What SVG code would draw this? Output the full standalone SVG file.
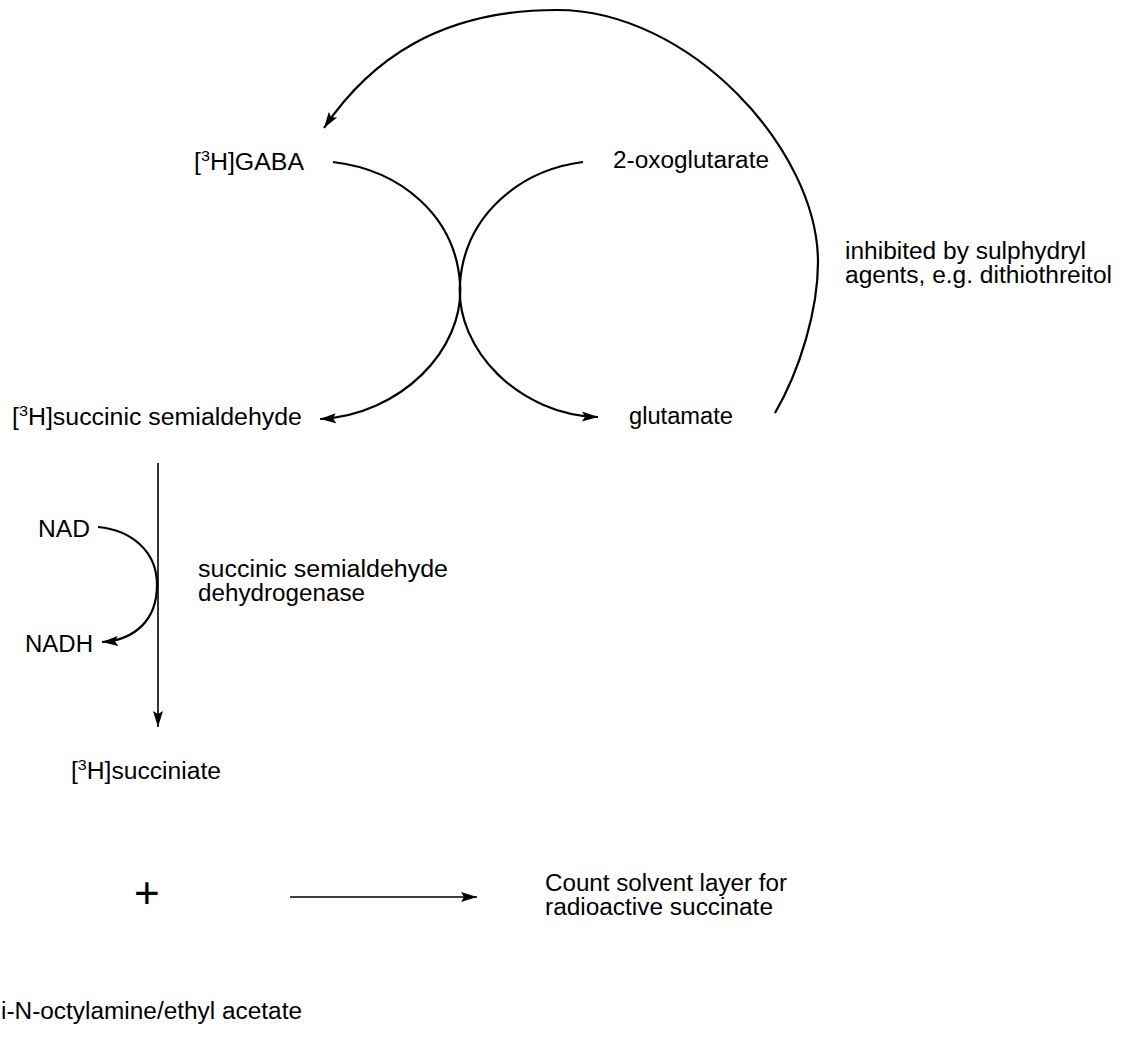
<svg xmlns="http://www.w3.org/2000/svg" width="1131" height="1037" viewBox="0 0 1131 1037">
<style>
text{font-family:"Liberation Sans",Arial,sans-serif;font-size:23px;fill:#000}
.c{fill:none;stroke:#000;stroke-width:2.2}
.t{fill:none;stroke:#000;stroke-width:1.6}
.sup{font-size:15px}
</style>
<defs>
<marker id="ah" markerUnits="userSpaceOnUse" markerWidth="18" markerHeight="12" refX="16" refY="6" orient="auto" viewBox="0 0 18 12">
<path d="M0,1 L16,6 L0,11 L3,6 Z" fill="#000"/>
</marker>
</defs>
<rect width="1131" height="1037" fill="#fff"/>
<g id="connectors">
<path class="c" d="M775,413 C800,370 818,310 818,262 C818,150 690,10 557,10 C440,10 370,60 324,128" marker-end="url(#ah)"/>
<path class="c" d="M333,162 C400,170 455,215 460,283 C465,350 400,415 320,419" marker-end="url(#ah)"/>
<path class="c" d="M583,162 C520,170 465,215 460,283 C455,350 520,415 598,417" marker-end="url(#ah)"/>
<path class="t" d="M158,463 L158,727" marker-end="url(#ah)"/>
<path class="c" d="M98,527 C130,530 157,550 157,585 C157,620 135,640 102,642" marker-end="url(#ah)"/>
<path class="t" d="M290,897 L477,897" marker-end="url(#ah)"/>
</g>
<g id="gaba"><text x="194" y="170" textLength="110" lengthAdjust="spacingAndGlyphs">[<tspan class="sup" dy="-9">3</tspan><tspan dy="9">H]GABA</tspan></text></g>
<g id="oxoglutarate"><text x="613" y="168" textLength="156" lengthAdjust="spacingAndGlyphs">2-oxoglutarate</text></g>
<g id="inhibition-label"><text x="845" y="259" textLength="241" lengthAdjust="spacingAndGlyphs">inhibited by sulphydryl</text><text x="845" y="283" textLength="267" lengthAdjust="spacingAndGlyphs">agents, e.g. dithiothreitol</text></g>
<g id="ssa"><text x="12" y="425" textLength="290" lengthAdjust="spacingAndGlyphs">[<tspan class="sup" dy="-9">3</tspan><tspan dy="9">H]succinic semialdehyde</tspan></text></g>
<g id="glutamate"><text x="629" y="424" textLength="104" lengthAdjust="spacingAndGlyphs">glutamate</text></g>
<g id="nad"><text x="38" y="537" textLength="52" lengthAdjust="spacingAndGlyphs">NAD</text></g>
<g id="nadh"><text x="25" y="652" textLength="68" lengthAdjust="spacingAndGlyphs">NADH</text></g>
<g id="enzyme"><text x="198" y="577" textLength="250" lengthAdjust="spacingAndGlyphs">succinic semialdehyde</text><text x="198" y="601" textLength="167" lengthAdjust="spacingAndGlyphs">dehydrogenase</text></g>
<g id="succinate"><text x="71" y="779" textLength="150" lengthAdjust="spacingAndGlyphs">[<tspan class="sup" dy="-9">3</tspan><tspan dy="9">H]succiniate</tspan></text></g>
<g id="plus"><text x="134" y="908" style="font-size:44px">+</text></g>
<g id="count"><text x="545" y="891" textLength="242" lengthAdjust="spacingAndGlyphs">Count solvent layer for</text><text x="545" y="915" textLength="228" lengthAdjust="spacingAndGlyphs">radioactive succinate</text></g>
<g id="solvent"><text x="1" y="1019" textLength="301" lengthAdjust="spacingAndGlyphs">i-N-octylamine/ethyl acetate</text></g>
</svg>
